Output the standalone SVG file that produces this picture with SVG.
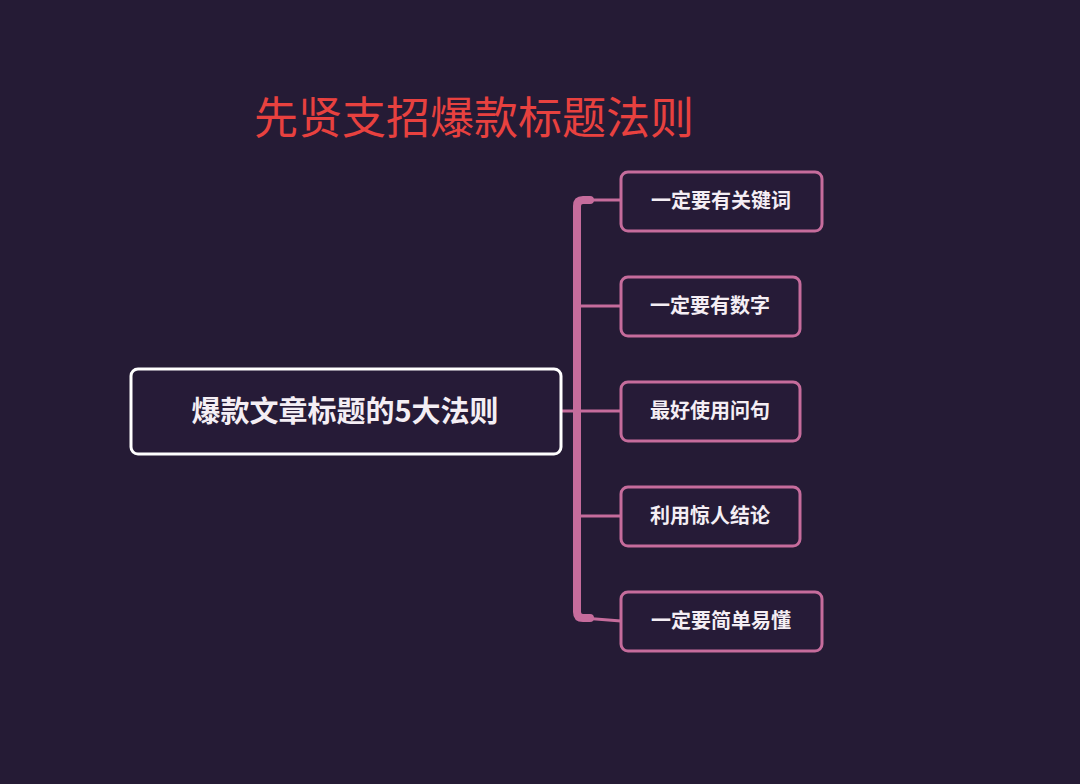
<svg xmlns="http://www.w3.org/2000/svg" width="1080" height="784" viewBox="0 0 1080 784">
<style>
.t{font-family:"Noto Sans CJK SC","Liberation Sans",sans-serif;font-weight:bold;fill:#f4eef4}
.b{fill:#261b37;stroke:#c66c9c;stroke-width:3}
.c{stroke:#c66c9c;stroke-width:8;fill:none;stroke-linecap:round}
.c2{stroke:#c66c9c;stroke-width:3;fill:none}
</style>
<rect width="1080" height="784" fill="#251b35"/>
<text x="474" y="134" text-anchor="middle" font-family="'Noto Sans CJK SC',sans-serif" font-size="44" fill="#e8413f">先贤支招爆款标题法则</text>
<g id="connectors">
<path class="c" d="M577 206 Q577 200 583 200 L590 200 M577 206 L577 612 Q577 618 583 618 L590 618"/>
<path class="c2" d="M583 200 L621 200 M577 306 L621 306 M561 411 L621 411 M577 516 L621 516 M583 618 L621 621"/>
</g>
<g id="main"><rect x="131" y="369" width="430" height="85" rx="7" fill="#261b37" stroke="#fff" stroke-width="3"/><text class="t" x="345" y="422" text-anchor="middle" font-size="29">爆款文章标题的5大法则</text></g>
<g id="n1"><rect class="b" x="621" y="172" width="201" height="59" rx="7"/><text class="t" x="721" y="208" text-anchor="middle" font-size="20">一定要有关键词</text></g>
<g id="n2"><rect class="b" x="621" y="277" width="179" height="59" rx="7"/><text class="t" x="710" y="313" text-anchor="middle" font-size="20">一定要有数字</text></g>
<g id="n3"><rect class="b" x="621" y="382" width="179" height="59" rx="7"/><text class="t" x="710" y="418" text-anchor="middle" font-size="20">最好使用问句</text></g>
<g id="n4"><rect class="b" x="621" y="487" width="179" height="59" rx="7"/><text class="t" x="710" y="523" text-anchor="middle" font-size="20">利用惊人结论</text></g>
<g id="n5"><rect class="b" x="621" y="592" width="201" height="59" rx="7"/><text class="t" x="721" y="628" text-anchor="middle" font-size="20">一定要简单易懂</text></g>
</svg>
